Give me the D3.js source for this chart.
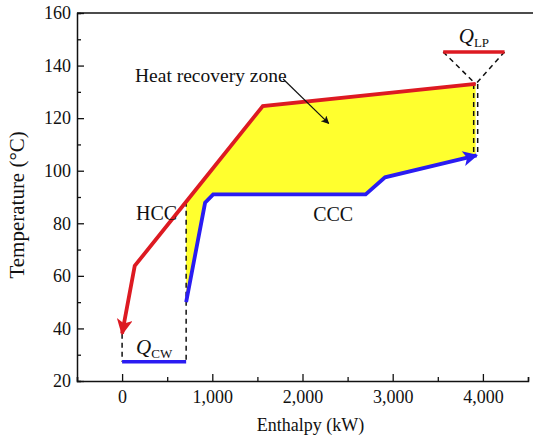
<!DOCTYPE html>
<html>
<head>
<meta charset="utf-8">
<script src="https://d3js.org/d3.v7.min.js"></script>
<style>
  body { margin: 0; background: #fff; }
  svg text { font-family: "Liberation Serif", "Times New Roman", Times, serif; fill: #111; }
</style>
</head>
<body>
<div id="chart"></div>
<script>
// values (enthalpy in kW, temperature in degC)
var hccH = [3920, 1560, 710, 140, 0];
var hccT = [133, 124.6, 88.2, 63.8, 38];
var cccH = [710, 920, 1010, 2700, 2915, 3930];
var cccT = [50, 87.8, 91, 91, 97.5, 105.8];
var zoneH = [710, 1560, 3920, 3920, 2915, 2700, 1010, 920, 710];
var zoneT = [88.2, 124.6, 133, 105.8, 97.5, 91, 91, 87.8, 50];
var cwH = [0, 710];
var cwT = [27.3, 27.3];
var lpH = [3560, 4240];
var lpT = [145.2, 145.2];
var xTicks = [0, 1000, 2000, 3000, 4000];
var yTicks = [20, 40, 60, 80, 100, 120, 140, 160];

var width = 533, height = 443;
var red = "#dd1a22", blue = "#2a1cf2", yellow = "#ffff2e";

var svg = d3.select("#chart").append("svg")
    .attr("width", width)
    .attr("height", height);

var x = d3.scaleLinear().domain([-500, 4500]).range([77, 528]);
var y = d3.scaleLinear().domain([20, 160]).range([381, 13]);

var defs = svg.append("defs");
function arrowMarker(id, color, w, h) {
    defs.append("marker")
        .attr("id", id)
        .attr("viewBox", "0 0 10 10")
        .attr("refX", 9).attr("refY", 5)
        .attr("markerUnits", "userSpaceOnUse")
        .attr("markerWidth", w).attr("markerHeight", h)
        .attr("orient", "auto")
      .append("path")
        .attr("d", "M0,0 L10,5 L0,10 L2.5,5 Z")
        .attr("fill", color);
}
arrowMarker("arRed", red, 20, 16);
arrowMarker("arBlue", blue, 20, 15);
arrowMarker("arBlack", "#111", 10, 8);

var line = d3.line().x(function(d) { return x(d[0]); }).y(function(d) { return y(d[1]); });
function pts(hs, ts) { return hs.map(function(h, i) { return [h, ts[i]]; }); }

// yellow heat recovery zone
svg.append("path")
    .attr("d", line(pts(zoneH, zoneT)) + "Z")
    .attr("fill", yellow);

// dashed guides
function dash(h1, t1, h2, t2, dx) {
    svg.append("line")
        .attr("x1", x(h1) + (dx || 0)).attr("y1", y(t1))
        .attr("x2", x(h2) + (dx || 0)).attr("y2", y(t2))
        .attr("stroke", "#111")
        .attr("stroke-width", 1.5)
        .attr("stroke-dasharray", "5,4");
}
dash(cwH[0], hccT[4], cwH[0], cwT[0]);
dash(cwH[1], hccT[2], cwH[1], cwT[1]);
dash(lpH[0], lpT[0], hccH[0], hccT[0]);
dash(lpH[1], lpT[1], hccH[0], hccT[0]);
dash(hccH[0], hccT[0], hccH[0], cccT[5], -2);
dash(hccH[0], hccT[0], hccH[0], cccT[5], 2);

// hot composite curve
svg.append("path")
    .attr("d", line(pts(hccH, hccT)))
    .attr("fill", "none")
    .attr("stroke", red)
    .attr("stroke-width", 3.8)
    .attr("marker-end", "url(#arRed)");

// cold composite curve
svg.append("path")
    .attr("d", line(pts(cccH, cccT)))
    .attr("fill", "none")
    .attr("stroke", blue)
    .attr("stroke-width", 3.8)
    .attr("marker-end", "url(#arBlue)");

// utilities
svg.append("path")
    .attr("d", line(pts(cwH, cwT)))
    .attr("stroke", blue).attr("stroke-width", 3.5).attr("fill", "none");
svg.append("path")
    .attr("d", line(pts(lpH, lpT)))
    .attr("stroke", red).attr("stroke-width", 3.5).attr("fill", "none");

// axes
var gx = svg.append("g").attr("transform", "translate(0," + y(20) + ")");
gx.call(d3.axisBottom(x).tickValues(d3.range(-500, 4501, 500)).tickSize(-4).tickFormat(""));
gx.call(function(g) {
    g.selectAll(".tick line").attr("y2", function(d) { return d % 1000 === 0 ? -7 : -4; });
});
var gx2 = svg.append("g").attr("transform", "translate(0," + y(20) + ")");
gx2.call(d3.axisBottom(x).tickValues(xTicks).tickSize(0).tickPadding(9).tickFormat(d3.format(",")));
gx2.select(".domain").remove();

var gy = svg.append("g").attr("transform", "translate(" + x(-500) + ",0)");
gy.call(d3.axisLeft(y).tickValues(d3.range(20, 161, 10)).tickSize(-4).tickFormat(""));
gy.call(function(g) {
    g.selectAll(".tick line").attr("x2", function(d) { return d % 20 === 0 ? 7 : 4; });
});
var gy2 = svg.append("g").attr("transform", "translate(" + x(-500) + ",0)");
gy2.call(d3.axisLeft(y).tickValues(yTicks).tickSize(0).tickPadding(6));
gy2.select(".domain").remove();

svg.selectAll(".domain").attr("stroke", "#111").attr("stroke-width", 1.5);
svg.selectAll(".tick line").attr("stroke", "#111").attr("stroke-width", 1.3);
svg.selectAll(".tick text")
    .style("font-family", "'Liberation Serif', serif")
    .style("font-size", "18px")
    .attr("fill", "#111");

// top frame line
svg.append("line")
    .attr("x1", x(-500)).attr("x2", width)
    .attr("y1", y(160)).attr("y2", y(160))
    .attr("stroke", "#111").attr("stroke-width", 1.5);

// axis titles
svg.append("text")
    .attr("x", x(2000) + 8).attr("y", 431)
    .attr("text-anchor", "middle")
    .style("font-size", "18px")
    .text("Enthalpy (kW)");
svg.append("text")
    .attr("transform", "translate(24," + y(87) + ") rotate(-90)")
    .attr("text-anchor", "middle")
    .style("font-size", "21px")
    .text("Temperature (°C)");

// annotations
svg.append("text")
    .attr("x", 135).attr("y", 82)
    .style("font-size", "19.5px")
    .text("Heat recovery zone");
svg.append("line")
    .attr("x1", x(1785)).attr("y1", y(134.9))
    .attr("x2", x(2290)).attr("y2", y(118))
    .attr("stroke", "#111").attr("stroke-width", 1.2)
    .attr("marker-end", "url(#arBlack)");

svg.append("text")
    .attr("x", x(610)).attr("y", y(81.3))
    .attr("text-anchor", "end")
    .style("font-size", "20px")
    .text("HCC");
svg.append("text")
    .attr("x", x(2340)).attr("y", y(80.8))
    .attr("text-anchor", "middle")
    .style("font-size", "20px")
    .text("CCC");

function qLabel(cx, cy, sub) {
    var t = svg.append("text").attr("x", cx).attr("y", cy).attr("text-anchor", "middle");
    t.append("tspan").style("font-style", "italic").style("font-size", "21px").text("Q");
    t.append("tspan").attr("dy", 4).style("font-size", "13px").text(sub);
}
qLabel(x(355), y(30.3), "CW");
qLabel(x(3900), y(148.6), "LP");
</script>
</body>
</html>
